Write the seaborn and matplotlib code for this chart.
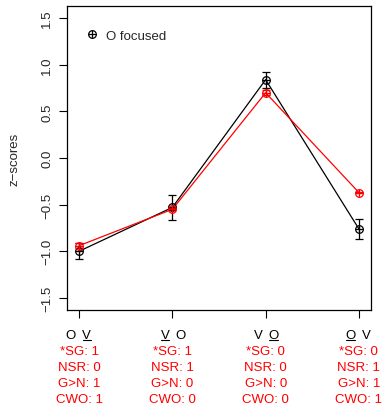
import numpy as np
import pandas as pd
import matplotlib
matplotlib.use("Agg")
import matplotlib.pyplot as plt
import seaborn as sns
from matplotlib.legend_handler import HandlerTuple
from matplotlib.lines import Line2D

# values
positions = [1, 2, 3, 4]
black_z = [-1.00, -0.53, 0.84, -0.76]
black_err = [0.085, 0.13, 0.085, 0.105]
red_z = [-0.94, -0.55, 0.70, -0.37]
red_err = [0.025, 0.01, 0.025, 0.01]

# word order under each tick; index of the underlined word
order_words = [("O", "V"), ("V", "O"), ("V", "O"), ("O", "V")]
underlined = [1, 0, 1, 0]
sg = [1, 1, 0, 0]
nsr = [0, 1, 0, 1]
gn = [1, 0, 0, 1]
cwo = [1, 0, 0, 1]

FS = 9.5
sns.set_style("ticks")
plt.rcParams["font.family"] = ["Liberation Sans", "DejaVu Sans"]

df = pd.DataFrame({
    "pos": positions * 2,
    "z": black_z + red_z,
    "grp": ["black"] * 4 + ["red"] * 4,
})

fig = plt.figure(figsize=(3.84, 4.06), dpi=100)
ax = fig.add_axes([67 / 384, 95 / 406, 304 / 384, 304 / 406])

sns.lineplot(data=df, x="pos", y="z", hue="grp", palette={"black": "black", "red": "red"},
             legend=False, ax=ax, linewidth=0.9, zorder=2)
for z, e, c in [(black_z, black_err, "black"), (red_z, red_err, "red")]:
    ax.errorbar(positions, z, yerr=e, fmt="none", ecolor=c, elinewidth=0.9, capsize=3,
                capthick=0.9, zorder=3)
    ax.plot(positions, z, "o", mfc="none", mec=c, ms=5.5, mew=0.9, zorder=4)
    ax.plot(positions, z, "+", color=c, ms=5.5, mew=0.9, zorder=4)

ax.set_xlim(0.87, 4.13)
ax.set_ylim(-1.63, 1.63)
ax.set_yticks([-1.5, -1.0, -0.5, 0.0, 0.5, 1.0, 1.5])
ax.set_yticklabels(["\u22121.5", "\u22121.0", "\u22120.5", "0.0", "0.5", "1.0", "1.5"],
                   rotation=90, va="center", fontsize=FS)
ax.set_xticks(positions)
ax.set_xticklabels([])
ax.tick_params(axis="both", length=6, width=0.8, color="black")
ax.tick_params(axis="y", pad=4)
for s in ax.spines.values():
    s.set_visible(True)
    s.set_linewidth(0.9)
    s.set_color("black")
ax.set_xlabel("")
ax.set_ylabel("z\u2212scores", fontsize=FS, labelpad=15)

# category labels (one word underlined) and feature rows beneath each tick
xtr = ax.get_xaxis_transform()
under_texts = []
for i, p in enumerate(positions):
    for k, (w, dx, ha) in enumerate([(order_words[i][0], -2.2, "right"),
                                     (order_words[i][1], 2.2, "left")]):
        t = ax.annotate(w, xy=(p, 0), xycoords=xtr, xytext=(dx, -20),
                        textcoords="offset points", ha=ha, va="baseline",
                        fontsize=FS, color="black")
        if k == underlined[i]:
            under_texts.append((t, p))
    rows = [f"*SG: {sg[i]}", f"NSR: {nsr[i]}", f"G>N: {gn[i]}", f"CWO: {cwo[i]}"]
    for j, r in enumerate(rows):
        ax.annotate(r, xy=(p, 0), xycoords=xtr,
                    xytext=(0, -29.5 - 11.6 * j), textcoords="offset points",
                    ha="center", va="center", fontsize=FS, color="red")

h_circle = Line2D([], [], marker="o", mfc="none", mec="black", ms=5.5, mew=0.9, ls="none")
h_plus = Line2D([], [], marker="+", color="black", ms=5.5, mew=0.9, ls="none")
ax.legend([(h_circle, h_plus)], ["O focused"], handler_map={tuple: HandlerTuple(ndivide=1)},
          loc="upper left", bbox_to_anchor=(0.02, 0.962), frameon=False, fontsize=FS,
          handlelength=1.0, handletextpad=0.6)

# underline the focused word just below its baseline
fig.canvas.draw()
renderer = fig.canvas.get_renderer()
inv = fig.transFigure.inverted()
for t, p in under_texts:
    bb = t.get_window_extent(renderer)
    base_y = xtr.transform((p, 0))[1] - 20 * fig.dpi / 72
    y = base_y - 2
    (x0, y0), (x1, _) = inv.transform([(bb.x0 + 0.5, y), (bb.x1 - 0.5, y)])
    fig.add_artist(Line2D([x0, x1], [y0, y0], color="black", lw=0.8))

fig.savefig("out.png", dpi=100)
